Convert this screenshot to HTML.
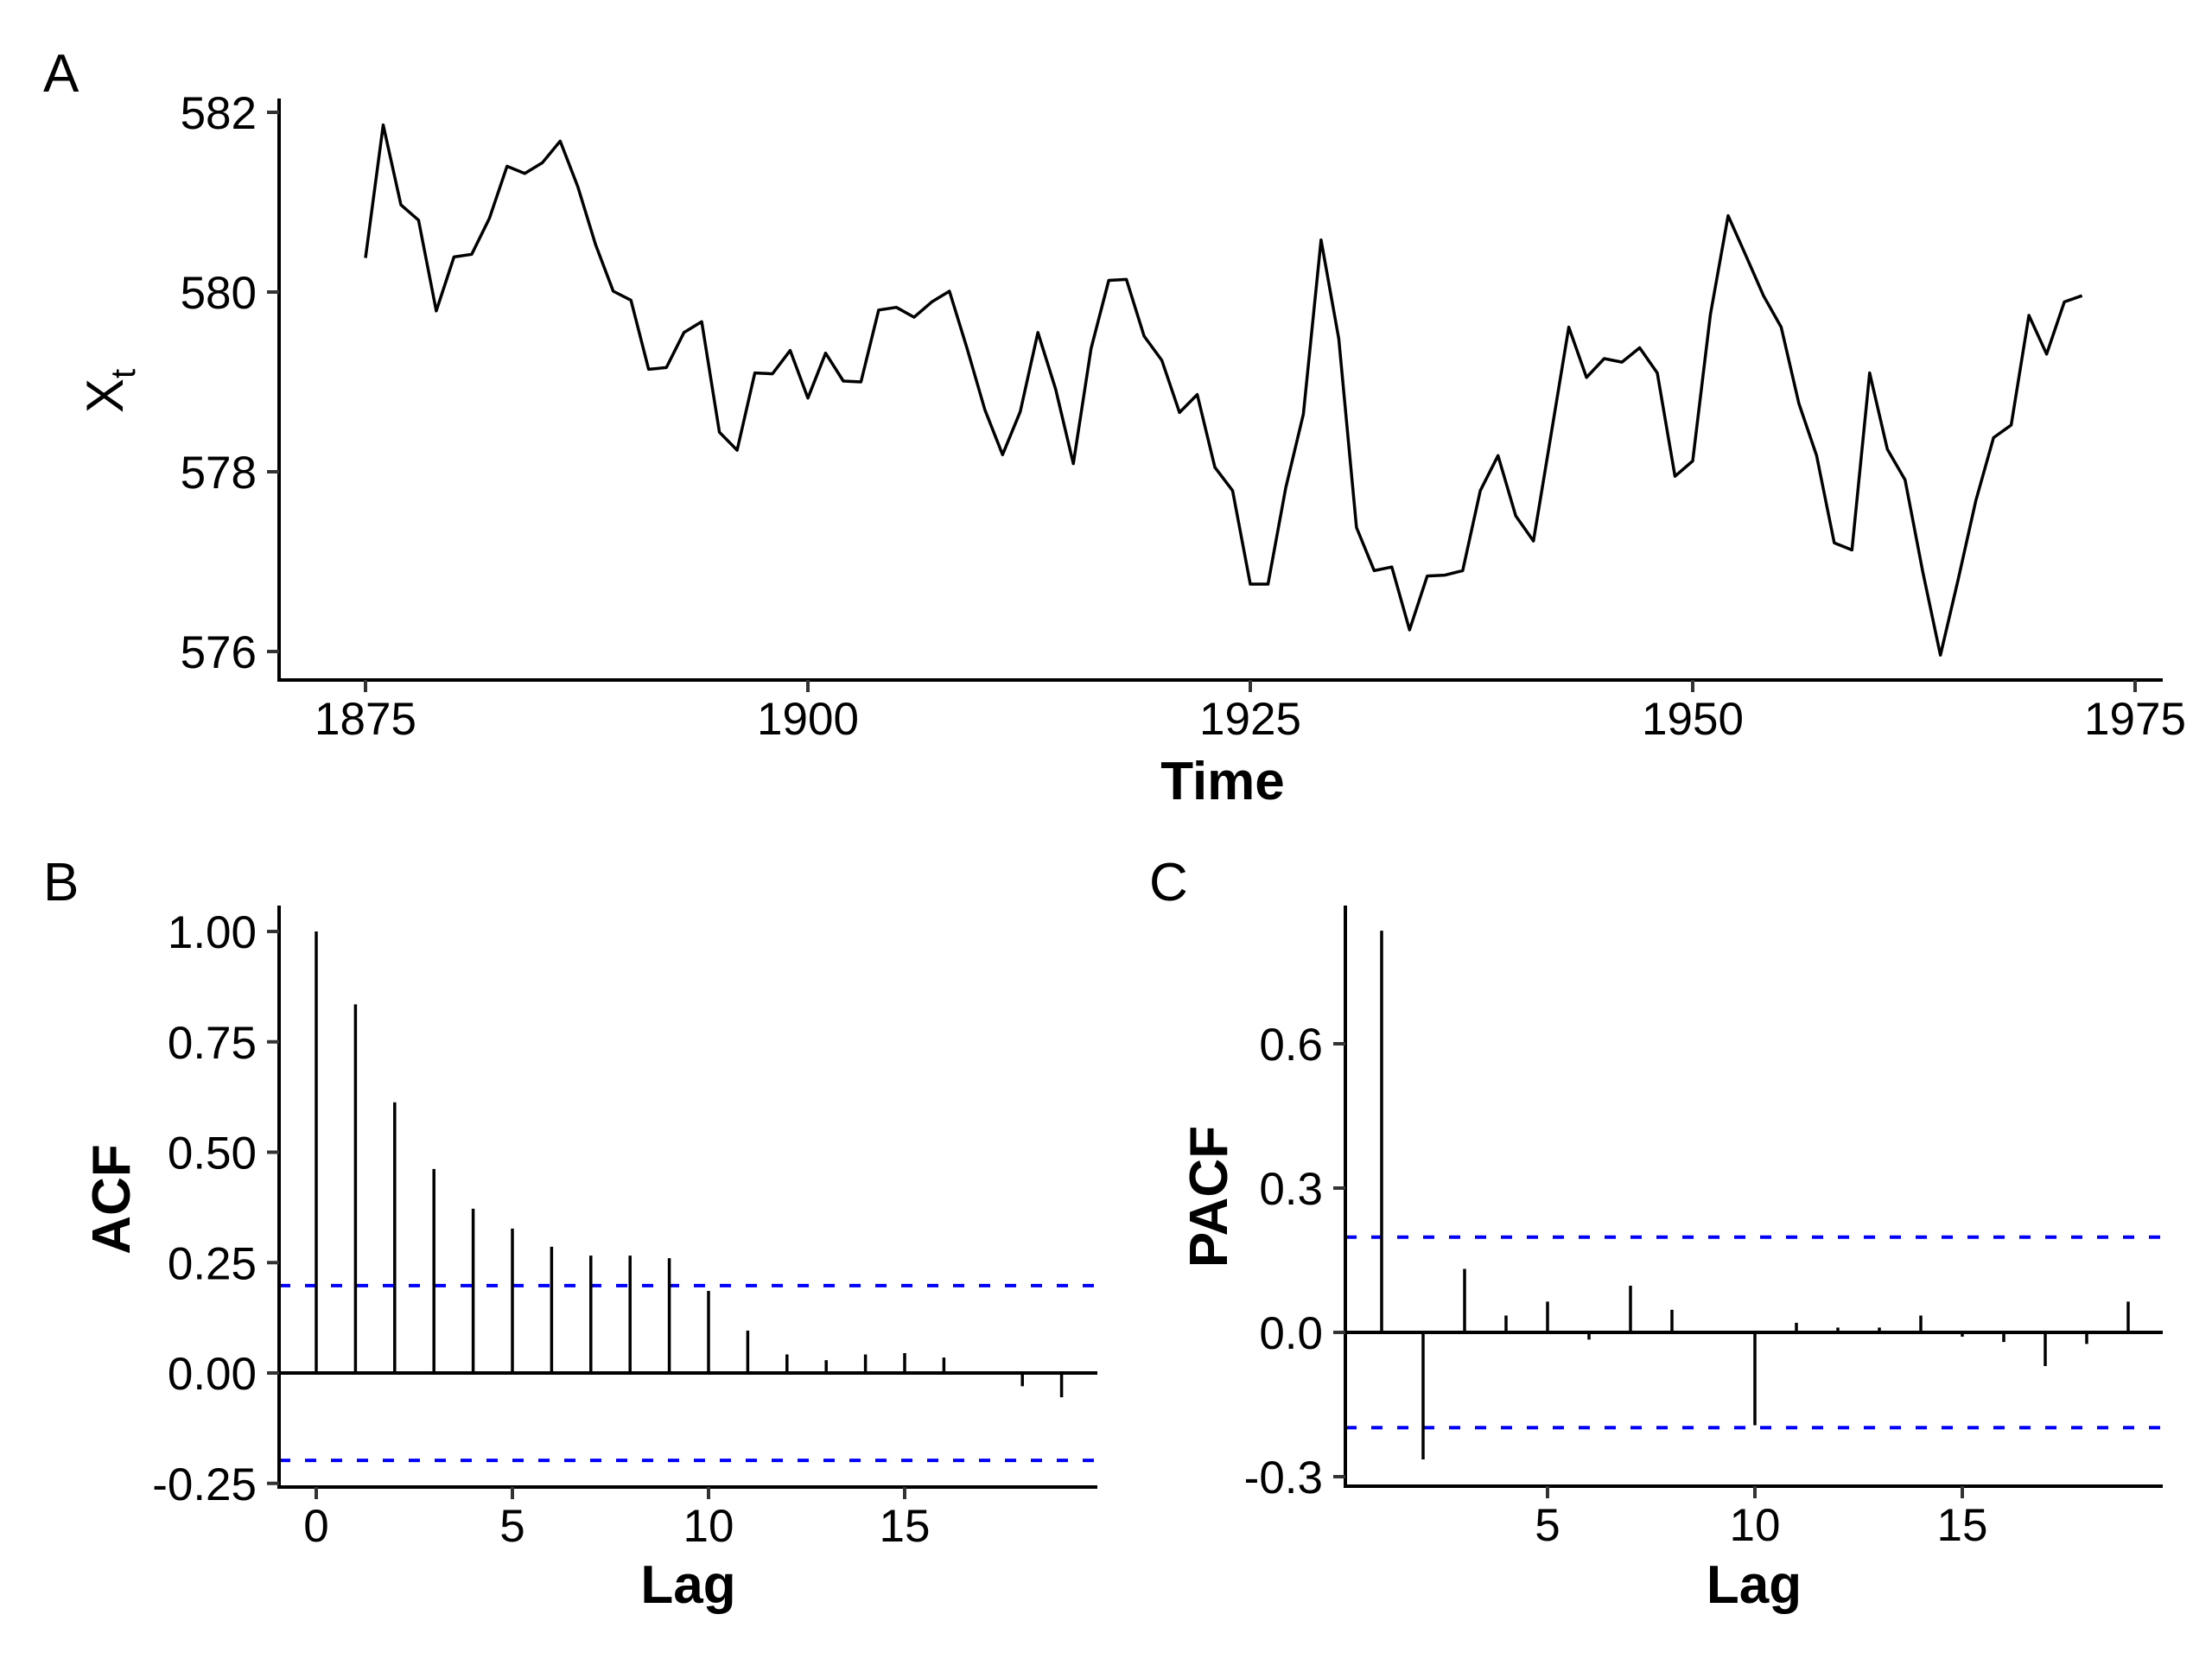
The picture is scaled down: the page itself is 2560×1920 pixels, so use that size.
<!DOCTYPE html>
<html><head><meta charset="utf-8"><style>html,body{margin:0;padding:0;background:#fff}svg{display:block}</style></head>
<body>
<svg xmlns="http://www.w3.org/2000/svg" width="2560" height="1920" viewBox="0 0 2560 1920" font-family="Liberation Sans, Arial, sans-serif">
<rect width="2560" height="1920" fill="#fff"/>
<g id="A"></g><g id="B"></g><g id="C"></g>
<script>
(function(){
var NS="http://www.w3.org/2000/svg";
function el(p,t,a,txt){var e=document.createElementNS(NS,t);for(var k in a)e.setAttribute(k,a[k]);if(txt!=null)e.textContent=txt;p.appendChild(e);return e;}
var d=[580.38,581.86,580.97,580.80,579.79,580.39,580.42,580.82,581.40,581.32,581.44,581.68,581.17,580.53,580.01,579.91,579.14,579.16,579.55,579.67,578.44,578.24,579.10,579.09,579.35,578.82,579.32,579.01,579.00,579.80,579.83,579.72,579.89,580.01,579.37,578.69,578.19,578.67,579.55,578.92,578.09,579.37,580.13,580.14,579.51,579.24,578.66,578.86,578.05,577.79,576.75,576.75,577.82,578.64,580.58,579.48,577.38,576.90,576.94,576.24,576.84,576.85,576.90,577.79,578.18,577.51,577.23,578.42,579.61,579.05,579.26,579.22,579.38,579.10,577.95,578.12,579.75,580.85,580.41,579.96,579.61,578.76,578.18,577.21,577.13,579.10,578.25,577.91,576.89,575.96,576.80,577.68,578.38,578.52,579.74,579.31,579.89,579.96];
var FS=53;
var g=document.getElementById("A");
function X(y){return 423+(y-1875)*20.48;} function Y(v){return 130+(582-v)*104;}
var pts=d.map(function(v,i){return X(1875+i).toFixed(1)+","+Y(v).toFixed(1);}).join(" ");
el(g,"polyline",{points:pts,fill:"none",stroke:"#000","stroke-width":3.5,"stroke-linejoin":"round"});
el(g,"line",{x1:323,y1:114,x2:323,y2:787,stroke:"#000","stroke-width":4});
el(g,"line",{x1:321,y1:787,x2:2503,y2:787,stroke:"#000","stroke-width":4});
[582,580,578,576].forEach(function(v){var y=Y(v);el(g,"line",{x1:309,y1:y,x2:323,y2:y,stroke:"#333","stroke-width":4});el(g,"text",{x:297,y:y+19,"font-size":FS,"text-anchor":"end"},v);});
[1875,1900,1925,1950,1975].forEach(function(v){var x=X(v);el(g,"line",{x1:x,y1:787,x2:x,y2:801,stroke:"#333","stroke-width":4});el(g,"text",{x:x,y:850,"font-size":FS,"text-anchor":"middle"},v);});
el(g,"text",{x:1415,y:925,"font-size":62,"font-weight":"bold","text-anchor":"middle"},"Time");
el(g,"text",{x:50,y:106,"font-size":62},"A");
var t=el(g,"text",{transform:"translate(142,478) rotate(-90)","font-size":60});
el(t,"tspan",{},"X");el(t,"tspan",{"font-size":40,dy:14},"t");

function panel(gid,o){
 var g=document.getElementById(gid);
 function px(l){return o.x0+l*o.dx;} function py(v){return o.y0-v*o.dy;}
 var cl=1.96/Math.sqrt(98);
 [cl,-cl].forEach(function(c){el(g,"line",{x1:o.ax,y1:py(c),x2:o.ar,y2:py(c),stroke:"#0000ff","stroke-width":4,"stroke-dasharray":"13,17"});});
 el(g,"line",{x1:o.ax,y1:py(0),x2:o.ar,y2:py(0),stroke:"#000","stroke-width":4});
 o.vals.forEach(function(v,i){var l=i+o.start;el(g,"line",{x1:px(l),y1:py(0),x2:px(l),y2:py(v),stroke:"#000","stroke-width":3.5});});
 el(g,"line",{x1:o.ax,y1:1048,x2:o.ax,y2:o.ab,stroke:"#000","stroke-width":4});
 el(g,"line",{x1:o.ax-2,y1:o.ab,x2:o.ar,y2:o.ab,stroke:"#000","stroke-width":4});
 o.yt.forEach(function(v){var y=py(v[0]);el(g,"line",{x1:o.ax-14,y1:y,x2:o.ax,y2:y,stroke:"#333","stroke-width":4});el(g,"text",{x:o.ax-26,y:y+19,"font-size":FS,"text-anchor":"end"},v[1]);});
 o.xt.forEach(function(l){var x=px(l);el(g,"line",{x1:x,y1:o.ab,x2:x,y2:o.ab+14,stroke:"#333","stroke-width":4});el(g,"text",{x:x,y:o.ab+63,"font-size":FS,"text-anchor":"middle"},l);});
 el(g,"text",{x:(o.ax+o.ar)/2,y:1855,"font-size":62,"font-weight":"bold","text-anchor":"middle"},"Lag");
 el(g,"text",{transform:"translate("+o.lx+","+o.ly+") rotate(-90)","font-size":62,"font-weight":"bold","text-anchor":"middle"},o.lab);
 el(g,"text",{x:o.px,y:1042,"font-size":62},o.letter);
}
panel("B",{x0:366,dx:45.4,y0:1589,dy:511,ax:323,ar:1270,ab:1721,start:0,
 vals:[1,0.835,0.613,0.462,0.372,0.327,0.286,0.266,0.266,0.26,0.186,0.096,0.042,0.029,0.042,0.045,0.035,0.002,-0.03,-0.055],
 yt:[[1,"1.00"],[0.75,"0.75"],[0.5,"0.50"],[0.25,"0.25"],[0,"0.00"],[-0.25,"-0.25"]],xt:[0,5,10,15],
 lx:150,ly:1388,lab:"ACF",px:50,letter:"B"});
panel("C",{x0:1551,dx:48,y0:1542,dy:556.7,ax:1557,ar:2503,ab:1720,start:1,
 vals:[0.835,-0.264,0.132,0.035,0.064,-0.015,0.097,0.047,0.002,-0.193,0.02,0.01,0.01,0.035,-0.009,-0.02,-0.07,-0.024,0.064],
 yt:[[0.6,"0.6"],[0.3,"0.3"],[0,"0.0"],[-0.3,"-0.3"]],xt:[5,10,15],
 lx:1420,ly:1385,lab:"PACF",px:1330,letter:"C"});
})();
</script>
</svg>
</body></html>
